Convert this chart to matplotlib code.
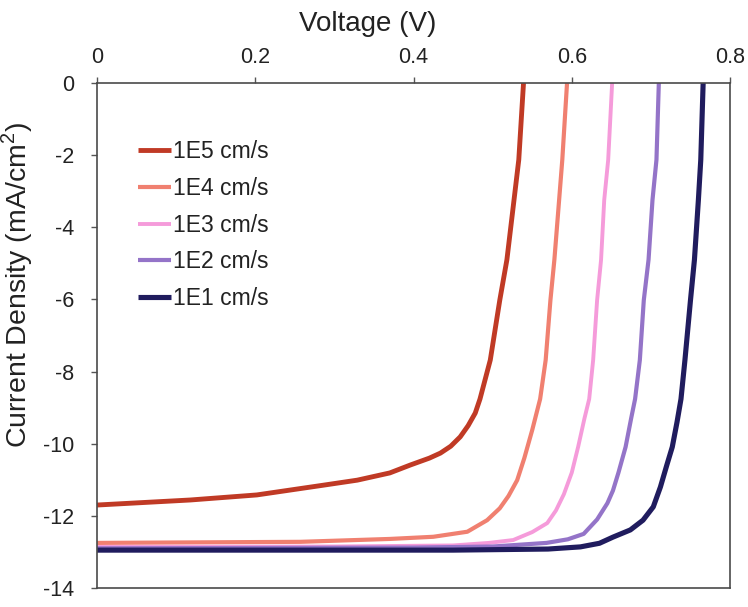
import matplotlib
matplotlib.use("Agg")
import matplotlib.pyplot as plt

plt.rcParams['font.family'] = ['Liberation Sans', 'DejaVu Sans']
plt.rcParams['mathtext.fontset'] = 'custom'
plt.rcParams['mathtext.rm'] = 'Liberation Sans'

# J-V curves for different surface recombination velocities
labels = ["1E5 cm/s", "1E4 cm/s", "1E3 cm/s", "1E2 cm/s", "1E1 cm/s"]
colors = ["#C03A25", "#F08070", "#F59BDA", "#9474C8", "#201C5E"]
widths = [3.5, 3.0, 2.8, 3.0, 3.7]

v_1e5 = [0, 0.118, 0.202, 0.286, 0.329, 0.370, 0.396, 0.420, 0.434, 0.447,
         0.459, 0.469, 0.478, 0.484, 0.497, 0.509, 0.518, 0.527, 0.533, 0.539]
j_1e5 = [-11.70, -11.56, -11.42, -11.15, -11.01, -10.81, -10.59, -10.40, -10.26, -10.07,
         -9.81, -9.50, -9.15, -8.76, -7.68, -6.02, -4.90, -3.24, -2.13, 0]

v_1e4 = [0, 0.257, 0.370, 0.425, 0.468, 0.493, 0.509, 0.520, 0.531, 0.540,
         0.550, 0.560, 0.567, 0.573, 0.578, 0.584, 0.588, 0.594]
j_1e4 = [-12.75, -12.72, -12.64, -12.58, -12.44, -12.12, -11.79, -11.45, -11.01, -10.40,
         -9.62, -8.76, -7.68, -6.02, -4.90, -3.24, -2.13, 0]

v_1e3 = [0, 0.300, 0.450, 0.495, 0.526, 0.550, 0.569, 0.580, 0.590, 0.600,
         0.608, 0.616, 0.622, 0.627, 0.632, 0.637, 0.641, 0.646, 0.651]
j_1e3 = [-12.86, -12.85, -12.82, -12.75, -12.67, -12.45, -12.20, -11.85, -11.40, -10.80,
         -10.09, -9.30, -8.76, -7.68, -6.02, -4.90, -3.24, -2.13, 0]

v_1e2 = [0, 0.400, 0.500, 0.568, 0.595, 0.615, 0.632, 0.645, 0.652, 0.659, 0.668,
         0.675, 0.680, 0.686, 0.691, 0.697, 0.702, 0.707, 0.710]
j_1e2 = [-12.90, -12.88, -12.85, -12.75, -12.65, -12.50, -12.10, -11.65, -11.30, -10.80,
         -10.09, -9.30, -8.76, -7.68, -6.02, -4.90, -3.24, -2.13, 0]

v_1e1 = [0, 0.450, 0.570, 0.611, 0.635, 0.652, 0.674, 0.690, 0.703, 0.712, 0.720,
         0.727, 0.733, 0.738, 0.743, 0.750, 0.755, 0.760, 0.763, 0.766]
j_1e1 = [-12.95, -12.95, -12.92, -12.86, -12.76, -12.59, -12.39, -12.12, -11.75, -11.20,
         -10.60, -10.09, -9.40, -8.76, -7.68, -6.02, -4.90, -3.24, -2.13, 0]

voltages = [v_1e5, v_1e4, v_1e3, v_1e2, v_1e1]
currents = [j_1e5, j_1e4, j_1e3, j_1e2, j_1e1]

x_ticks = [0, 0.2, 0.4, 0.6, 0.8]
x_tick_labels = ["0", "0.2", "0.4", "0.6", "0.8"]
y_ticks = [0, -2, -4, -6, -8, -10, -12, -14]

fig = plt.figure(figsize=(7.48, 6.07), dpi=100)
ax = fig.add_axes([0.1297, 0.0313, 0.8463, 0.8320])

for v, j, lab, c, lw in zip(voltages, currents, labels, colors, widths):
    ax.plot(v, j, color=c, lw=lw, label=lab, solid_capstyle='butt',
            solid_joinstyle='round')

ax.set_xlim(0, 0.8)
ax.set_ylim(-14, 0)
ax.set_xticks(x_ticks)
ax.set_xticklabels(x_tick_labels)
ax.set_yticks(y_ticks)
ax.set_yticklabels([str(t) for t in y_ticks])

ax.xaxis.tick_top()
ax.xaxis.set_label_position('top')
ax.tick_params(axis='both', direction='out', length=4.5, width=1.0,
               color='#555555', labelsize=15.5, labelcolor='#222222')
ax.tick_params(axis='x', pad=6)
ax.tick_params(axis='y', pad=12)

for s in ax.spines.values():
    s.set_color('#4a4a4a')
    s.set_linewidth(1.2)

ax.set_xlabel("Voltage (V)", fontsize=20, color='#222222', labelpad=12, x=0.428)
ax.set_ylabel("Current Density (mA/cm$^2$)", fontsize=20.5, color='#222222',
              labelpad=6, y=0.6)

leg = ax.legend(loc='upper left', bbox_to_anchor=(0.05, 0.905), frameon=False,
                fontsize=16.5, handlelength=1.45, handletextpad=0.08,
                labelspacing=0.6, borderaxespad=0)
for t in leg.get_texts():
    t.set_color('#222222')

fig.savefig("out.png", dpi=100)
